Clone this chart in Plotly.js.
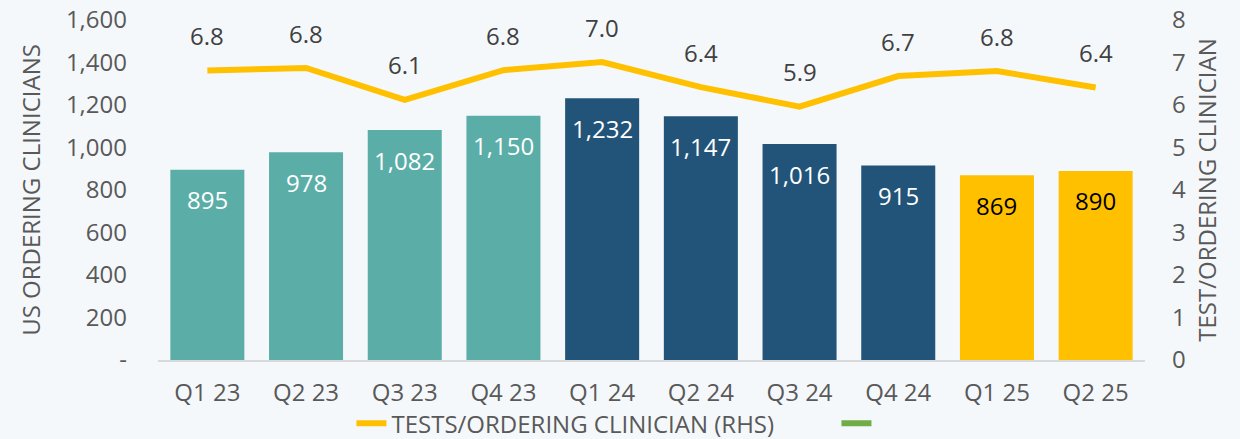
<!DOCTYPE html>
<html>
<head>
<meta charset="utf-8">
<script src="https://cdn.plot.ly/plotly-3.0.1.min.js"></script>
<style>html,body{margin:0;padding:0;background:#F5F8FB;}#chart{width:1240px;height:439px;}</style>
</head>
<body>
<div id="chart"></div>
<script>
// ---- data ----
const quarters = ['Q1 23','Q2 23','Q3 23','Q4 23','Q1 24','Q2 24','Q3 24','Q4 24','Q1 25','Q2 25'];
const clinicians = [895, 978, 1082, 1150, 1232, 1147, 1016, 915, 869, 890];
const testsPerClinician = [6.81, 6.87, 6.12, 6.82, 7.01, 6.42, 5.96, 6.68, 6.8, 6.41];
const testsLabels = ['6.8','6.8','6.1','6.8','7.0','6.4','5.9','6.7','6.8','6.4'];
const leftTickVals = [0,200,400,600,800,1000,1200,1400,1600];
const leftTickText = ['-','200','400','600','800','1,000','1,200','1,400','1,600'];
const lineName = 'TESTS/ORDERING CLINICIAN (RHS)';

// ---- styles ----
const yearColors = {'23':'#5AAEA7','24':'#215478','25':'#FFC000'};
const yearText = {'23':'#FFFFFF','24':'#FFFFFF','25':'#000000'};
const FONT = 'Open Sans, sans-serif';
const GREY = '#595959';

const barColors = quarters.map(q => yearColors[q.slice(-2)]);
const fmt = v => v.toLocaleString('en-US');

const traces = [
  {type:'bar', x:quarters, y:clinicians, marker:{color:barColors}, showlegend:false, hoverinfo:'skip'},
  {type:'scatter', mode:'lines', x:quarters, y:testsPerClinician, yaxis:'y2', name:lineName,
   line:{color:'#FFC000', width:6}, hoverinfo:'skip'},
  {type:'scatter', mode:'lines', x:[quarters[0]], y:[null], yaxis:'y2', name:'',
   line:{color:'#70AD47', width:6}, hoverinfo:'skip'}
];

const annotations = [];
quarters.forEach((q,i) => {
  annotations.push({x:q, y:clinicians[i], xref:'x', yref:'y', text:fmt(clinicians[i]), showarrow:false,
    yshift:-30, yanchor:'middle', font:{family:FONT, size:24, color:yearText[q.slice(-2)]}});
  annotations.push({x:q, y:testsPerClinician[i], xref:'x', yref:'y2', text:testsLabels[i], showarrow:false,
    yshift:35, yanchor:'middle', font:{family:FONT, size:24, color:'#404040'}});
});

const layout = {
  width:1240, height:439,
  margin:{l:158, r:95, t:20, b:79, autoexpand:false},
  paper_bgcolor:'#F5F8FB', plot_bgcolor:'#F5F8FB',
  font:{family:FONT, size:24, color:GREY},
  bargap:0.25,
  hovermode:false,
  xaxis:{showline:true, linecolor:'#D9D9D9', linewidth:2, ticks:'', showgrid:false, automargin:false,
    tickfont:{family:FONT, size:24, color:GREY}, ticklabelstandoff:10},
  yaxis:{range:[0,1600], tickvals:leftTickVals, ticktext:leftTickText, showgrid:false, zeroline:false,
    ticks:'', ticklabelstandoff:30, automargin:false, tickfont:{family:FONT, size:24, color:GREY},
    title:{text:'US ORDERING CLINICIANS', font:{family:FONT, size:24, color:GREY}, standoff:18}},
  yaxis2:{range:[0,8], dtick:1, overlaying:'y', side:'right', showgrid:false, zeroline:false,
    ticks:'', ticklabelstandoff:26, automargin:false, tickfont:{family:FONT, size:24, color:GREY},
    title:{text:'TEST/ORDERING CLINICIAN', font:{family:FONT, size:24, color:GREY}, standoff:14}},
  legend:{orientation:'h', x:0.196, xanchor:'left', yref:'container', y:0.035, yanchor:'middle',
    entrywidthmode:'pixels', entrywidth:440,
    font:{family:FONT, size:24, color:GREY}, bgcolor:'rgba(0,0,0,0)'},
  annotations:annotations
};

Plotly.newPlot('chart', traces, layout, {displayModeBar:false, staticPlot:true});
</script>
</body>
</html>
